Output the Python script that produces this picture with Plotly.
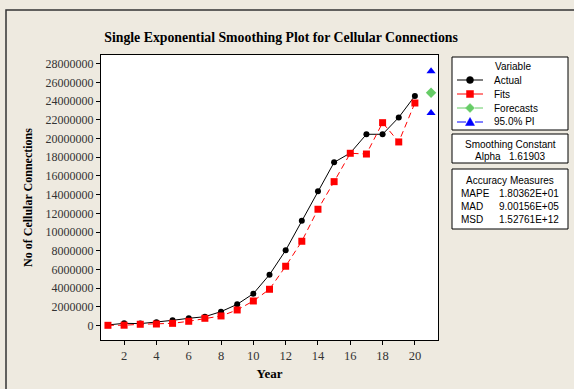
import plotly.graph_objects as go

# ---- data ----
years = list(range(1, 21))
actual = [80000, 250000, 220000, 360000, 570000, 790000, 960000, 1500000, 2280000, 3420000,
          5450000, 8050000, 11200000, 14350000, 17450000, 18450000, 20450000, 20450000, 22250000, 24550000]
fits = [40000, 50000, 150000, 180000, 250000, 470000, 790000, 1040000, 1680000, 2640000,
        3890000, 6350000, 9020000, 12440000, 15390000, 18420000, 18340000, 21690000, 19630000, 23790000]
forecast_x = [21]
forecast = [24880000]
pi_x = [21, 21, 21]
pi_vals = [27180000, None, 22720000]
x_ticks = [2, 4, 6, 8, 10, 12, 14, 16, 18, 20]

legend_names = ["Actual", "Fits", "Forecasts", "95.0% PI"]
alpha_label = "Alpha"
alpha_value = "1.61903"
acc_labels = ["MAPE", "MAD", "MSD"]
acc_values = ["1.80362E+01", "9.00156E+05", "1.52761E+12"]

# ---- layout geometry (pixels) ----
W, H = 574, 389
L, R, T, B = 101, 438, 55, 340


def px(x):
    return (x - L) / (R - L)


def py(y):
    return (B - y) / (B - T)


serif = "Liberation Serif, Times New Roman, serif"
sans = "Liberation Sans, Arial, sans-serif"

fig = go.Figure()
fig.add_trace(go.Scatter(x=years, y=actual, name="Actual", mode="lines+markers",
                         line=dict(color="black", width=1),
                         marker=dict(symbol="circle", size=6, color="black")))
fig.add_trace(go.Scatter(x=years, y=fits, name="Fits", mode="lines+markers",
                         line=dict(color="#ff0000", width=1, dash="6px,4px"),
                         marker=dict(symbol="square", size=7, color="#ff0000")))
fig.add_trace(go.Scatter(x=forecast_x, y=forecast, name="Forecasts", mode="lines+markers",
                         line=dict(color="#66cc66", width=1, dash="4px,3px"),
                         marker=dict(symbol="diamond", size=8, color="#66cc66")))
fig.add_trace(go.Scatter(x=pi_x, y=pi_vals, name="95.0% PI", mode="lines+markers",
                         connectgaps=False,
                         line=dict(color="#0000ff", width=1, dash="8px,4px"),
                         marker=dict(symbol="triangle-up", size=8, color="#0000ff")))

shapes = []
annotations = []


def text(x, y, s, anchor="left", size=10):
    annotations.append(dict(x=px(x), y=py(y), xref="paper", yref="paper", text=s,
                            showarrow=False, font=dict(family=sans, size=size, color="black"),
                            xanchor=anchor, yanchor="middle"))


def box(x0, y0, x1, y1):
    shapes.append(dict(type="rect", xref="paper", yref="paper",
                       x0=px(x0), x1=px(x1), y0=py(y0), y1=py(y1),
                       line=dict(color="black", width=1), fillcolor="white"))


# outer figure border (cropped on right and bottom)
shapes.append(dict(type="rect", xref="paper", yref="paper",
                   x0=px(6), x1=px(600), y0=py(10), y1=py(420),
                   line=dict(color="#333333", width=1.5), fillcolor="rgba(0,0,0,0)", layer="below"))

# ---- manual legend ----
box(452, 57, 568, 130)
text(513, 66, "Variable", "center")
colors = ["black", "#ff0000", "#66cc66", "#0000ff"]
dashes = ["solid", "solid", "dash", "dash"]
rows = [80, 94, 108, 122]
for name, c, d, yy in zip(legend_names, colors, dashes, rows):
    shapes.append(dict(type="line", xref="paper", yref="paper",
                       x0=px(457), x1=px(483), y0=py(yy), y1=py(yy),
                       line=dict(color=c, width=1, dash=d)))
    text(492, yy, name)
cx = 470
# circle
shapes.append(dict(type="circle", xref="paper", yref="paper",
                   x0=px(cx - 3.5), x1=px(cx + 3.5), y0=py(80 - 3.5), y1=py(80 + 3.5),
                   line=dict(color="black", width=0.5), fillcolor="black"))
# square
shapes.append(dict(type="rect", xref="paper", yref="paper",
                   x0=px(cx - 3.5), x1=px(cx + 3.5), y0=py(94 - 3.5), y1=py(94 + 3.5),
                   line=dict(color="#ff0000", width=0.5), fillcolor="#ff0000"))
# diamond
d = 4.5
shapes.append(dict(type="path", xref="paper", yref="paper",
                   path=f"M {px(cx)},{py(108 - d)} L {px(cx + d)},{py(108)} L {px(cx)},{py(108 + d)} L {px(cx - d)},{py(108)} Z",
                   line=dict(color="#66cc66", width=0.5), fillcolor="#66cc66"))
# triangle
shapes.append(dict(type="path", xref="paper", yref="paper",
                   path=f"M {px(cx)},{py(122 - 4.5)} L {px(cx + 4.5)},{py(122 + 3.5)} L {px(cx - 4.5)},{py(122 + 3.5)} Z",
                   line=dict(color="#0000ff", width=0.5), fillcolor="#0000ff"))

# ---- Smoothing constant box ----
box(452, 134, 568, 163)
text(510, 144, "Smoothing Constant", "center")
text(473, 156, alpha_label)
text(548, 156, alpha_value, "right")

# ---- Accuracy measures box ----
box(452, 169, 568, 229)
text(510, 180, "Accuracy Measures", "center")
for i, (lab, val) in enumerate(zip(acc_labels, acc_values)):
    yy = 193 + i * 13
    text(459, yy, lab)
    text(561, yy, val, "right")

fig.update_layout(
    width=W, height=H,
    margin=dict(l=L, r=W - R, t=T, b=H - B),
    paper_bgcolor="#eeeae0",
    plot_bgcolor="white",
    title=dict(text="<b>Single Exponential Smoothing Plot for Cellular Connections</b>",
               x=px(266), xanchor="center", y=1 - 37 / H, yanchor="middle",
               font=dict(family=serif, size=13.8, color="black")),
    showlegend=False,
    hovermode=False,
    shapes=shapes,
    annotations=annotations,
    xaxis=dict(range=[0.57, 21.43], tickvals=x_ticks, ticks="outside", ticklen=4,
               tickcolor="black", showline=True, linecolor="black", linewidth=1, mirror=True,
               showgrid=False, zeroline=False,
               tickfont=dict(family=serif, size=12.5, color="#333333"),
               title=dict(text="<b>Year</b>", font=dict(family=serif, size=13, color="black"),
                          standoff=6)),
    yaxis=dict(range=[-1530000, 28920000], dtick=2000000, tick0=0, tickformat="d",
               ticks="outside", ticklen=4, tickcolor="black",
               showline=True, linecolor="black", linewidth=1, mirror=True,
               showgrid=False, zeroline=False,
               tickfont=dict(family=serif, size=12, color="#333333"),
               title=dict(text="<b>No of Cellular Connections</b>",
                          font=dict(family=serif, size=12, color="black"), standoff=10)),
)

fig.write_html("out.html", config={"displayModeBar": False},
               post_script="document.body.style.margin='0';document.body.style.overflow='hidden';")
